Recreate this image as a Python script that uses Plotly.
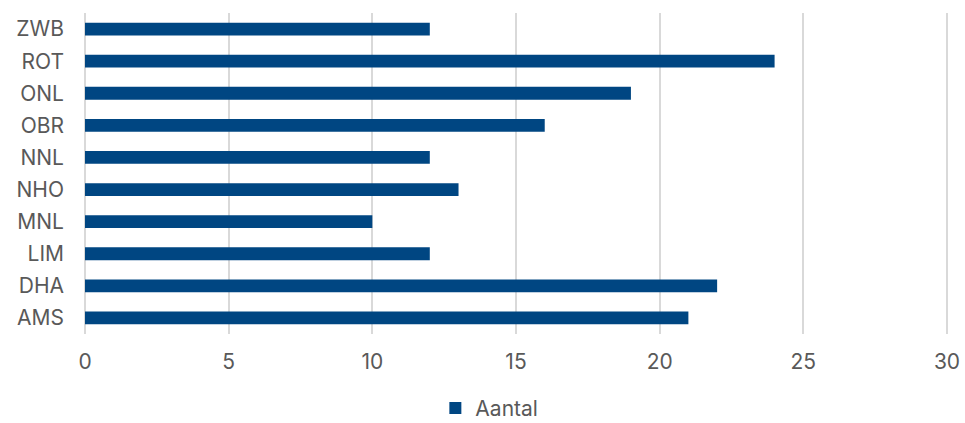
import plotly.graph_objects as go

categories = ["AMS", "DHA", "LIM", "MNL", "NHO", "NNL", "OBR", "ONL", "ROT", "ZWB"]
aantal = [21, 22, 12, 10, 13, 12, 16, 19, 24, 12]
x_ticks = [0, 5, 10, 15, 20, 25, 30]

fig = go.Figure()
fig.add_trace(go.Bar(
    y=categories, x=aantal, orientation="h", name="Aantal",
    marker=dict(color="#004682", line=dict(width=0)),
    showlegend=True,
))
fig.update_layout(
    width=965, height=423,
    margin=dict(l=85, r=16, t=13, b=89, autoexpand=False),
    paper_bgcolor="white", plot_bgcolor="white",
    font=dict(family="Inter", size=21, color="#595959"),
    bargap=0.6,
    showlegend=True,
    legend=dict(orientation="h", x=0.468, xanchor="center", y=-0.232, yanchor="middle",
                font=dict(size=21, color="#595959"), itemwidth=30,
                bgcolor="rgba(0,0,0,0)"),
    xaxis=dict(range=[0, 30.07], tickvals=x_ticks, showgrid=True, gridcolor="#d9d9d9",
               gridwidth=1.5, zeroline=True, zerolinecolor="#d9d9d9", zerolinewidth=1.5,
               ticks="", ticklabelstandoff=13, fixedrange=True, automargin=False),
    yaxis=dict(categoryorder="array", categoryarray=categories, showgrid=False,
               ticks="", ticklabelstandoff=20, fixedrange=True, automargin=False),
)
fig.write_html(
    "out.html",
    config={"displayModeBar": False},
    post_script="document.body.style.margin='0';document.body.style.overflow='hidden';",
)
